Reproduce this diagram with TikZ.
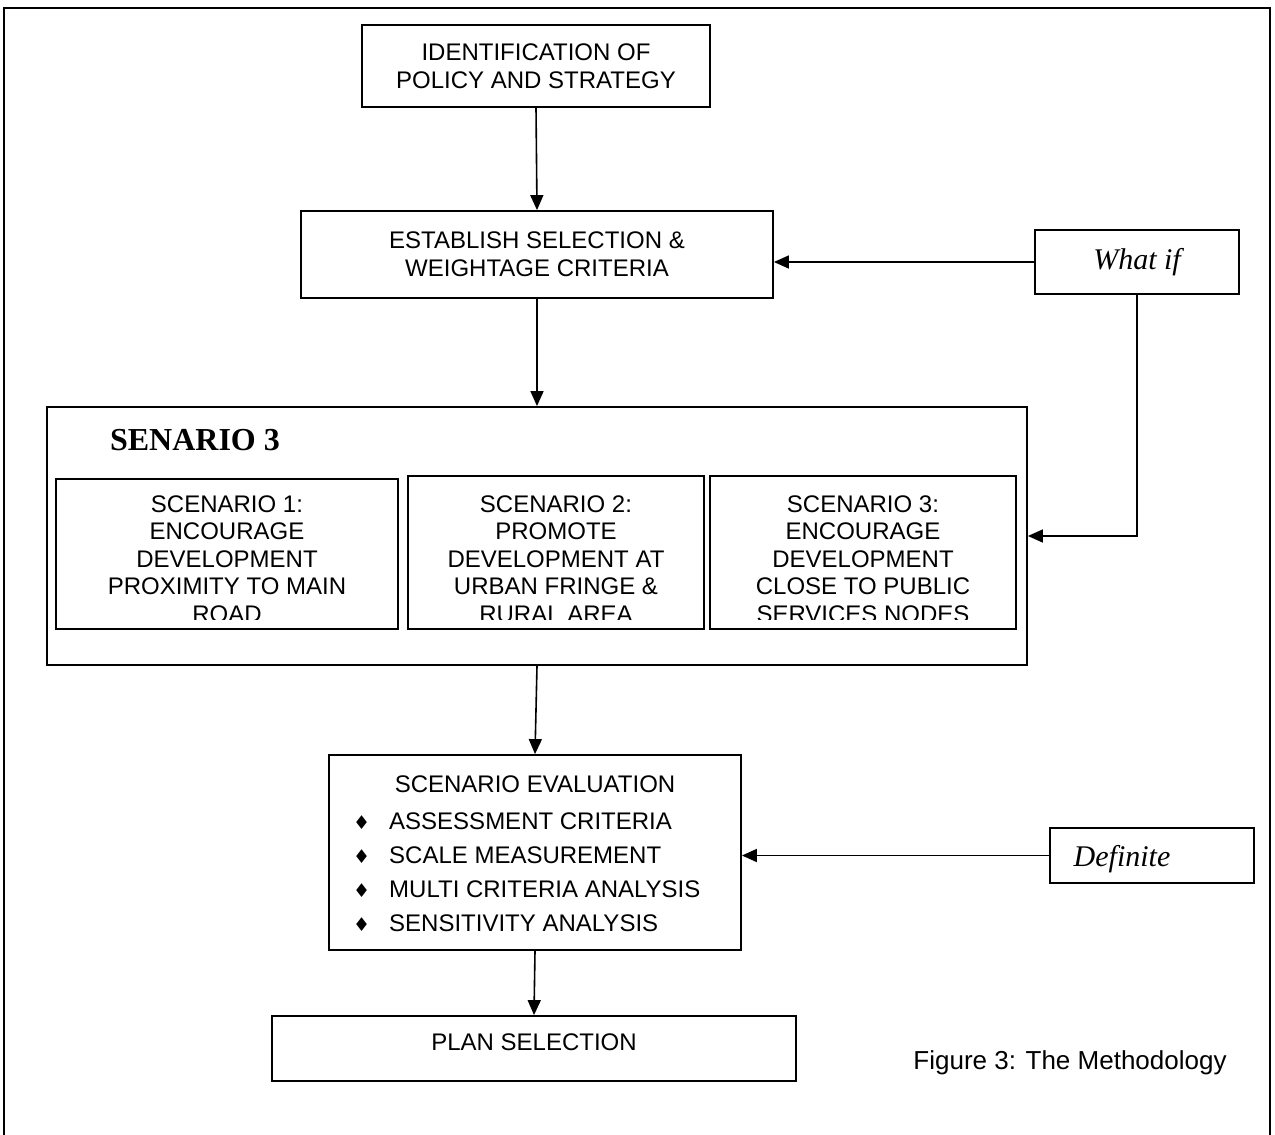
\documentclass[tikz,border=0pt]{standalone}
\usepackage{fontspec}
\setmainfont{Liberation Sans}
\newfontfamily\serifface{Liberation Serif}
\newfontfamily\dejavu{DejaVu Sans}
\usetikzlibrary{arrows.meta}
\begin{document}
\begin{tikzpicture}[x=1pt,y=-1pt,
  box/.style={draw, line width=1.8pt, rectangle, inner sep=0pt, align=center,
              font=\fontsize{24}{28}\selectfont},
  subbox/.style={draw, line width=1.8pt, rectangle, inner sep=0pt},
  subtext/.style={inner sep=0pt, align=center, font=\fontsize{24}{27.5}\selectfont},
  ittext/.style={font=\serifface\itshape\fontsize{30}{34}\selectfont},
  arr/.style={line width=1.6pt, -{Triangle[length=15pt,width=13pt]}}]
\useasboundingbox (0,0) rectangle (1275,1135);
% outer frame (open at the bottom)
\draw[line width=1.8pt] (4,1135) -- (4,8) -- (1270,8) -- (1270,1135);

\node[box, minimum width=348pt, minimum height=82pt] (idp) at (536,66)
  {IDENTIFICATION OF\\POLICY AND STRATEGY};
\node[box, minimum width=472pt, minimum height=87pt] (est) at (537,254.5)
  {ESTABLISH SELECTION \&\\WEIGHTAGE CRITERIA};
\node[box, minimum width=204pt, minimum height=64pt, ittext] (whatif) at (1137,262)
  {What if};
\node[subbox, minimum width=980pt, minimum height=258pt] (sen) at (537,536) {};
\node[inner sep=0pt, font=\serifface\bfseries\fontsize{32}{36}\selectfont] (sentitle) at (195,440) {SENARIO 3};

\node[subbox, minimum width=342pt, minimum height=150pt] (s1) at (227,554) {};
\node[subbox, minimum width=296pt, minimum height=153pt] (s2) at (556,552.5) {};
\node[subbox, minimum width=306pt, minimum height=153pt] (s3) at (863,552.5) {};
\begin{scope}
  \clip (50,470) rectangle (1020,619);
  \node[subtext] (s1t) at (227,559) {SCENARIO 1:\\ENCOURAGE\\DEVELOPMENT\\PROXIMITY TO MAIN\\ROAD};
  \node[subtext] (s2t) at (556,559) {SCENARIO 2:\\PROMOTE\\DEVELOPMENT AT\\URBAN FRINGE \&\\RURAL AREA};
  \node[subtext] (s3t) at (863,559) {SCENARIO 3:\\ENCOURAGE\\DEVELOPMENT\\CLOSE TO PUBLIC\\SERVICES NODES};
\end{scope}

\node[subbox, minimum width=412pt, minimum height=195pt] (eval) at (535,852.5) {};
\node[inner sep=0pt, font=\fontsize{24}{28}\selectfont] (evtitle) at (535,784) {SCENARIO EVALUATION};
\node[inner sep=0pt, anchor=west, align=left, font=\fontsize{24}{34}\selectfont] (evlist) at (353,872)
  {\makebox[36pt][l]{\dejavu\fontsize{19}{19}\selectfont ♦}ASSESSMENT CRITERIA\\
   \makebox[36pt][l]{\dejavu\fontsize{19}{19}\selectfont ♦}SCALE MEASUREMENT\\
   \makebox[36pt][l]{\dejavu\fontsize{19}{19}\selectfont ♦}MULTI CRITERIA ANALYSIS\\
   \makebox[36pt][l]{\dejavu\fontsize{19}{19}\selectfont ♦}SENSITIVITY ANALYSIS};

\node[subbox, minimum width=204pt, minimum height=55pt] (def) at (1152,855.5) {};
\node[inner sep=0pt, ittext] (deft) at (1122,859) {Definite};

\node[subbox, minimum width=524pt, minimum height=65pt] (plan) at (534,1048.5) {};
\node[inner sep=0pt, font=\fontsize{24}{28}\selectfont] (plant) at (534,1042) {PLAN SELECTION};

\node[inner sep=0pt, font=\fontsize{26}{30}\selectfont] (cap) at (1070,1063) {Figure 3: The Methodology};

% connectors
\draw[arr] (idp.south) -- (est.north);
\draw[arr] (whatif.west) -- (est.east |- whatif.west);
\draw[arr] (whatif.south) |- (sen.east);
\draw[arr] (est.south) -- (sen.north);
\draw[arr] (sen.south) -- (eval.north);
\draw[arr] (def.west) -- (eval.east |- def.west);
\draw[arr] (eval.south) -- (plan.north);
\end{tikzpicture}
\end{document}
